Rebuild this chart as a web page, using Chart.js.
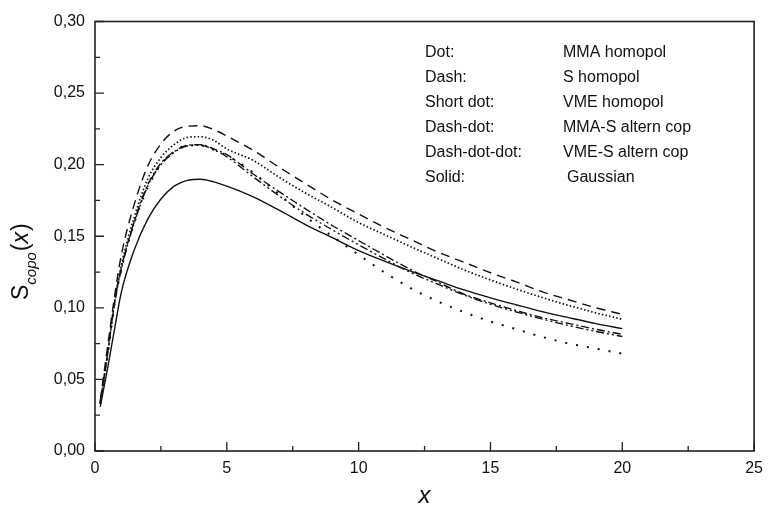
<!DOCTYPE html>
<html>
<head>
<meta charset="utf-8">
<script src="https://cdn.jsdelivr.net/npm/chart.js@4.4.1/dist/chart.umd.min.js"></script>
<style>
  html, body { margin: 0; padding: 0; background: #fff; }
  #wrap { width: 771px; height: 512px; }
</style>
</head>
<body>
<div id="wrap"><canvas id="myChart" width="771" height="512"></canvas></div>
<script>
// x values shared by all curves
var xs = [0.2, 0.5, 0.75, 1, 1.5, 2, 2.5, 3, 3.5, 4, 4.5, 5, 6, 7, 8, 9, 10, 11, 12, 13, 14, 15, 16, 17, 18, 19, 20];

var mmaHomopol = [0.033, 0.071, 0.105, 0.130, 0.164, 0.190, 0.205, 0.214, 0.219, 0.2195, 0.2170, 0.211, 0.203, 0.191, 0.180, 0.170, 0.1595, 0.151, 0.1425, 0.1345, 0.1265, 0.1195, 0.113, 0.107, 0.1015, 0.0965, 0.092];
var sHomopol = [0.035, 0.076, 0.109, 0.137, 0.173, 0.199, 0.2145, 0.2235, 0.2268, 0.2272, 0.2245, 0.220, 0.210, 0.198, 0.1865, 0.1753, 0.1655, 0.156, 0.1475, 0.139, 0.1318, 0.1245, 0.118, 0.111, 0.1055, 0.100, 0.0955];
var vmeHomopol = [0.033, 0.070, 0.104, 0.127, 0.160, 0.184, 0.200, 0.209, 0.2135, 0.2135, 0.2105, 0.2065, 0.1945, 0.179, 0.1635, 0.150, 0.137, 0.1245, 0.1135, 0.1045, 0.097, 0.0905, 0.085, 0.0795, 0.075, 0.0715, 0.068];
var mmaSCop = [0.034, 0.071, 0.105, 0.128, 0.161, 0.186, 0.201, 0.209, 0.2135, 0.214, 0.211, 0.207, 0.1935, 0.181, 0.169, 0.1575, 0.147, 0.1365, 0.1265, 0.118, 0.1095, 0.1035, 0.098, 0.093, 0.089, 0.085, 0.0815];
var vmeSCop = [0.034, 0.071, 0.104, 0.127, 0.160, 0.185, 0.200, 0.2085, 0.213, 0.2135, 0.2105, 0.2055, 0.1915, 0.178, 0.1655, 0.1545, 0.144, 0.134, 0.1245, 0.1165, 0.109, 0.1025, 0.097, 0.092, 0.0875, 0.0835, 0.080];
var gaussian = [0.031, 0.060, 0.086, 0.111, 0.141, 0.162, 0.176, 0.185, 0.189, 0.1898, 0.188, 0.185, 0.1775, 0.168, 0.158, 0.149, 0.140, 0.1325, 0.1255, 0.119, 0.1125, 0.107, 0.102, 0.0972, 0.093, 0.089, 0.0855];

var styleNames = ["Dot:", "Dash:", "Short dot:", "Dash-dot:", "Dash-dot-dot:", "Solid:"];
var seriesNames = ["MMA homopol", "S homopol", "VME homopol", "MMA-S altern cop", "VME-S altern cop", "Gaussian"];

var FONT = "'Liberation Sans', Arial, sans-serif";

function pts(arr) {
  return xs.map(function (x, i) { return { x: x, y: arr[i] }; });
}

function line(label, arr, dash, width) {
  return {
    label: label,
    data: pts(arr),
    borderColor: "#111",
    borderWidth: width || 1.4,
    borderDash: dash,
    pointRadius: 0,
    fill: false,
    cubicInterpolationMode: "monotone"
  };
}

// frame, inward ticks, legend text and y title
var frame = {
  id: "frame",
  afterDraw: function (chart) {
    var ctx = chart.ctx, a = chart.chartArea;
    var xs_ = chart.scales.x, ys_ = chart.scales.y;
    ctx.save();
    ctx.strokeStyle = "#222";
    ctx.lineWidth = 1.6;
    ctx.strokeRect(a.left, a.top, a.right - a.left, a.bottom - a.top);

    ctx.lineWidth = 1.3;
    ctx.beginPath();
    xs_.ticks.forEach(function (t) {
      var px = xs_.getPixelForValue(t.value);
      var len = Math.abs(t.value % 5) < 1e-6 ? 9 : 5;
      ctx.moveTo(px, a.bottom);
      ctx.lineTo(px, a.bottom - len);
    });
    ys_.ticks.forEach(function (t) {
      var py = ys_.getPixelForValue(t.value);
      var len = Math.round(t.value * 1000) % 50 === 0 ? 9 : 5;
      ctx.moveTo(a.left, py);
      ctx.lineTo(a.left + len, py);
    });
    ctx.stroke();

    // legend as two text columns
    ctx.fillStyle = "#111";
    ctx.font = "16px " + FONT;
    ctx.textBaseline = "middle";
    ctx.textAlign = "left";
    for (var i = 0; i < styleNames.length; i++) {
      var ty = 53 + i * 25;
      ctx.fillText(styleNames[i], 425, ty);
      ctx.fillText(seriesNames[i], i === 5 ? 567 : 563, ty);
    }

    // y axis title S_copo(x)
    ctx.translate(28, 300);
    ctx.rotate(-Math.PI / 2);
    ctx.textBaseline = "alphabetic";
    ctx.font = "23px " + FONT;
    ctx.fillText("S", 0, 0);
    var w = ctx.measureText("S").width;
    ctx.font = "italic 15px " + FONT;
    ctx.fillText("copo", w, 8);
    w += ctx.measureText("copo").width + 1;
    ctx.font = "23px " + FONT;
    ctx.fillText("(", w, 0);
    w += ctx.measureText("(").width;
    ctx.font = "italic 23px " + FONT;
    ctx.fillText("x", w, 0);
    w += ctx.measureText("x").width + 1;
    ctx.font = "23px " + FONT;
    ctx.fillText(")", w, 0);
    ctx.restore();
  }
};

var ctx = document.getElementById("myChart").getContext("2d");
var myChart = new Chart(ctx, {
  type: "line",
  data: {
    datasets: [
      line(seriesNames[0], mmaHomopol, [1.5, 2.2], 1.7),
      line(seriesNames[1], sHomopol, [9, 6]),
      line(seriesNames[2], vmeHomopol, [2, 9], 2),
      line(seriesNames[3], mmaSCop, [8, 3, 2, 3]),
      line(seriesNames[4], vmeSCop, [8, 3, 2, 3, 2, 3]),
      line(seriesNames[5], gaussian, [])
    ]
  },
  options: {
    responsive: false,
    animation: false,
    layout: { padding: { top: 21.5, right: 10.5, left: 0, bottom: 0 } },
    plugins: { legend: { display: false }, tooltip: { enabled: false } },
    scales: {
      x: {
        type: "linear",
        min: 0,
        max: 25,
        afterFit: function (s) { s.height = 61; },
        grid: { display: false, drawTicks: false },
        border: { display: false },
        ticks: {
          stepSize: 2.5,
          padding: 8,
          color: "#111",
          font: { family: FONT, size: 16 },
          callback: function (v) { return Math.abs(v % 5) < 1e-6 ? String(v) : ""; }
        },
        title: {
          display: true,
          text: "x",
          color: "#111",
          font: { family: FONT, size: 24, style: "italic" },
          padding: { top: 4, bottom: 1 }
        }
      },
      y: {
        min: 0,
        max: 0.30,
        afterFit: function (s) { s.width = 95; },
        grid: { display: false, drawTicks: false },
        border: { display: false },
        ticks: {
          stepSize: 0.025,
          padding: 10,
          color: "#111",
          font: { family: FONT, size: 16 },
          callback: function (v) {
            return Math.round(v * 1000) % 50 === 0 ? v.toFixed(2).replace(".", ",") : "";
          }
        }
      }
    }
  },
  plugins: [frame]
});
</script>
</body>
</html>
